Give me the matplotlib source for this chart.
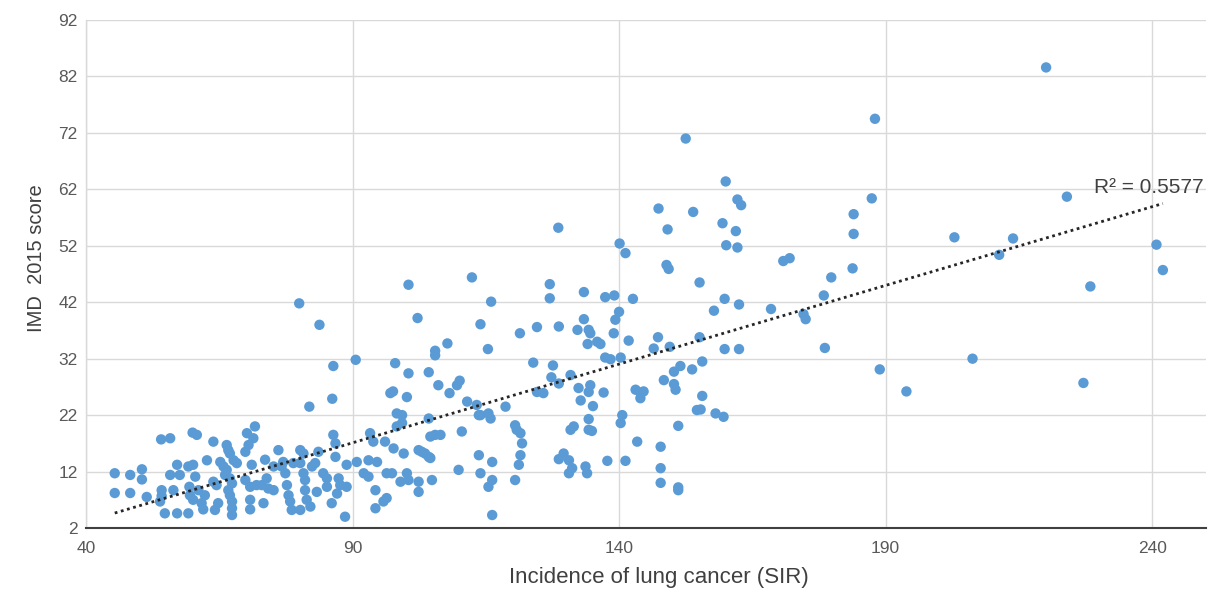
import numpy as np
import matplotlib
matplotlib.use("Agg")
import matplotlib.pyplot as plt

# Lung cancer incidence (SIR) against IMD 2015 score, one point per area
sir = [
    45.4, 45.4, 48.3, 48.3, 50.5, 50.5, 51.4, 53.9, 54.1, 55.8, 54.2, 54.2, 54.8, 57.1, 59.2,
    56.4, 55.8, 57.1, 57.6, 59.2, 59.4, 59.5,
    60.0, 60.8, 63.9, 66.4, 66.7, 67.0, 70.2, 71.7, 71.4, 70.5, 69.9,
    62.7, 65.2, 67.7, 68.3, 65.8, 66.4, 66.1, 67.0, 67.4, 66.7, 67.0, 67.4, 67.4, 67.4,
    60.1, 60.5, 61.1, 60.1, 61.7, 62.3, 62.0, 63.9, 64.5, 64.8, 64.2,
    71.1, 69.9, 70.8, 72.0, 73.0, 70.8, 70.8, 73.6, 73.9, 73.3,
    75.2, 75.2, 74.2, 76.1, 76.7, 77.0, 77.4, 77.7, 78.0, 78.3, 78.6, 80.2, 78.9,
    80.2, 80.8, 80.2, 80.8, 81.1, 81.1, 81.4, 82.1, 82.4, 83.6, 83.0, 83.3, 84.5,
    85.2, 85.2, 86.1, 86.4, 86.8, 86.8, 87.4, 87.7, 87.1, 88.9, 88.9, 88.6,
    90.8, 92.1, 93.0, 93.3, 93.9, 94.6, 93.0, 94.3, 94.3, 96.1, 96.4, 97.4, 97.7,
    98.3, 99.3, 99.6, 99.0, 96.4, 95.8, 100.2, 99.3, 100.5,
    102.4, 102.4, 104.9, 104.3, 104.6, 105.5, 106.5, 102.4, 103.0, 103.6, 104.3, 104.6,
    110.5, 109.9, 111.5, 113.3, 113.7, 114.0, 115.5, 115.9, 118.7, 113.7, 116.2, 114.0,
    116.2, 115.5, 116.2, 120.5, 120.8, 121.5, 121.8, 121.5, 121.2, 120.5, 128.7,
    100.5, 112.4, 102.2, 116.0, 114.0, 115.4, 107.8, 105.5, 105.5, 98.0, 100.5, 104.3,
    106.1, 109.6, 110.1, 108.2, 97.1, 97.6, 100.2, 98.3,
    121.4, 124.6, 127.0, 127.0, 128.7, 123.9, 127.6, 127.3, 124.6, 125.8, 128.7, 128.6,
    80.0, 83.8, 86.4, 90.6, 86.2, 81.9,
    140.1, 141.2, 160.1, 148.9, 149.3, 155.1, 133.4, 137.4, 139.1, 142.6, 159.8, 157.8,
    140.0, 139.3, 133.4, 132.2, 134.3, 134.6, 139.0, 134.1, 135.9, 136.5, 141.8, 147.3,
    146.5, 149.5, 155.1, 159.8, 137.4, 138.4, 140.3, 155.6, 153.7, 150.3, 151.5, 130.9,
    148.4, 150.3, 150.6, 132.4, 134.6, 134.3, 137.1, 143.1, 144.0, 144.6, 144.0,
    132.8, 135.1, 155.6, 154.6, 158.1, 159.6, 140.6, 134.3,
    140.3, 130.9, 131.5, 134.3, 134.9, 151.1, 143.4, 147.8, 129.6, 130.6, 131.2, 130.6,
    133.7, 134.0, 137.8, 141.2, 147.8, 147.8, 151.1, 151.1,
    152.5, 160.0, 147.4, 153.9, 159.4, 149.1,
    188.0, 162.2, 162.9, 187.4, 184.0, 184.0, 161.9, 162.2, 170.8, 172.0, 183.8, 179.8,
    178.4, 162.5, 168.5, 174.6, 175.0, 162.5, 178.6, 188.9, 155.3,
    220.1, 224.0, 202.9, 213.9, 211.3, 240.8, 242.0, 228.4, 206.3, 193.9, 227.1,
]
imd = [
    11.7, 8.2, 11.4, 8.2, 12.4, 10.6, 7.5, 6.7, 17.7, 17.9, 8.7, 7.7, 4.6, 4.6, 4.6,
    8.7, 11.4, 13.2, 11.4, 12.9, 9.3, 7.8,
    18.9, 18.5, 17.3, 16.7, 15.8, 15.2, 18.8, 20.0, 17.9, 16.7, 15.5,
    14.0, 13.7, 14.0, 13.5, 12.9, 12.3, 11.4, 10.8, 9.9, 8.7, 7.8, 6.7, 5.5, 4.3,
    13.2, 11.1, 8.7, 7.0, 6.4, 7.8, 5.3, 10.2, 9.6, 6.4, 5.2,
    13.2, 10.5, 9.3, 9.6, 9.6, 7.0, 5.3, 14.1, 10.8, 6.4,
    12.9, 8.7, 9.0, 15.8, 12.9, 13.7, 11.7, 9.6, 7.8, 6.7, 5.2, 5.2, 13.5,
    15.8, 15.2, 13.5, 11.7, 10.5, 8.7, 7.0, 5.8, 12.9, 15.5, 13.5, 8.4, 11.7,
    10.8, 9.3, 6.4, 18.5, 17.0, 14.6, 10.8, 9.6, 8.1, 13.2, 9.3, 4.0,
    13.7, 11.7, 14.0, 18.8, 17.3, 13.7, 11.1, 8.7, 5.5, 17.3, 11.7, 11.7, 16.1,
    20.0, 20.6, 15.2, 10.2, 7.3, 6.7, 11.7, 22.0, 10.5,
    10.2, 8.4, 10.5, 21.4, 18.2, 18.5, 18.5, 15.8, 15.5, 15.2, 14.6, 14.4,
    19.1, 12.3, 24.4, 23.8, 22.0, 22.0, 22.3, 21.4, 23.5, 14.9, 13.7, 11.7,
    10.5, 9.3, 4.3, 20.2, 19.4, 18.8, 17.0, 14.9, 13.2, 10.5, 14.2,
    45.1, 46.4, 39.2, 42.1, 38.1, 33.7, 34.7, 33.4, 32.6, 31.2, 29.4, 29.6,
    27.3, 27.3, 28.1, 25.9, 25.9, 26.2, 25.2, 22.3,
    36.5, 37.6, 45.2, 42.7, 37.7, 31.3, 30.8, 28.7, 26.1, 25.9, 27.6, 55.2,
    41.8, 38.0, 30.7, 31.8, 24.9, 23.5,
    52.4, 50.7, 52.1, 48.6, 47.9, 45.5, 43.8, 42.9, 43.2, 42.6, 42.6, 40.5,
    40.3, 38.9, 39.0, 37.1, 37.1, 36.5, 36.5, 34.6, 35.0, 34.6, 35.2, 35.8,
    33.8, 34.1, 35.8, 33.7, 32.2, 31.9, 32.2, 31.5, 30.1, 29.7, 30.7, 29.1,
    28.2, 27.5, 26.5, 26.8, 27.3, 26.1, 26.0, 26.5, 26.0, 26.2, 25.0,
    24.6, 23.6, 25.4, 22.9, 22.3, 21.7, 22.0, 21.3,
    20.6, 19.4, 20.0, 19.4, 19.2, 20.1, 17.3, 16.4, 15.2, 14.0, 12.6, 11.7,
    12.9, 11.7, 13.9, 13.9, 12.6, 10.0, 9.2, 8.7,
    71.0, 63.4, 58.6, 58.0, 56.0, 54.9,
    74.5, 60.2, 59.2, 60.4, 57.6, 54.1, 54.6, 51.7, 49.3, 49.8, 48.0, 46.4,
    43.2, 41.6, 40.8, 39.9, 39.0, 33.7, 33.9, 30.1, 23.0,
    83.6, 60.7, 53.5, 53.3, 50.4, 52.2, 47.7, 44.8, 32.0, 26.2, 27.7,
]
r_squared = 0.5577

x_ticks = [40, 90, 140, 190, 240]
y_ticks = [2, 12, 22, 32, 42, 52, 62, 72, 82, 92]

x = np.array(sir)
y = np.array(imd)

plt.rcParams["font.family"] = ["Liberation Sans", "DejaVu Sans"]

fig = plt.figure(figsize=(12.14, 5.94), dpi=100)
ax = fig.add_axes([0.0708, 0.1111, 0.9222, 0.8552])

ax.scatter(x, y, s=56, color="#5B9BD5", edgecolors="none", zorder=3)

# Linear trend line across the data range
slope, intercept = np.polyfit(x, y, 1)
xs = np.array([x.min(), x.max()])
ax.plot(xs, slope * xs + intercept, color="#262626", lw=2.0,
        linestyle=(0, (1, 1.3)), zorder=4)
ax.text(229.0, 62.4, f"R\u00b2 = {r_squared:.4f}", fontsize=15,
        color="#404040", va="center", ha="left", zorder=5)

ax.set_xlim(40, 250)
ax.set_ylim(2, 92)
ax.set_xticks(x_ticks)
ax.set_yticks(y_ticks)
ax.grid(True, color="#D9D9D9", linewidth=1.0, zorder=0)
ax.set_axisbelow(True)
ax.tick_params(length=0, labelsize=12.5, labelcolor="#595959")
ax.tick_params(axis="x", pad=9)
ax.tick_params(axis="y", pad=6)

for side in ("top", "right"):
    ax.spines[side].set_visible(False)
ax.spines["left"].set_color("#D9D9D9")
ax.spines["left"].set_linewidth(1.0)
ax.spines["bottom"].set_color("#404040")
ax.spines["bottom"].set_linewidth(1.5)

ax.set_xlabel("Incidence of lung cancer (SIR)", fontsize=16, color="#404040")
ax.set_ylabel("IMD  2015 score", fontsize=14.5, color="#404040")
ax.xaxis.set_label_coords(0.512, -0.076)
ax.yaxis.set_label_coords(-0.036, 0.532)

fig.savefig("out.png", dpi=100)
